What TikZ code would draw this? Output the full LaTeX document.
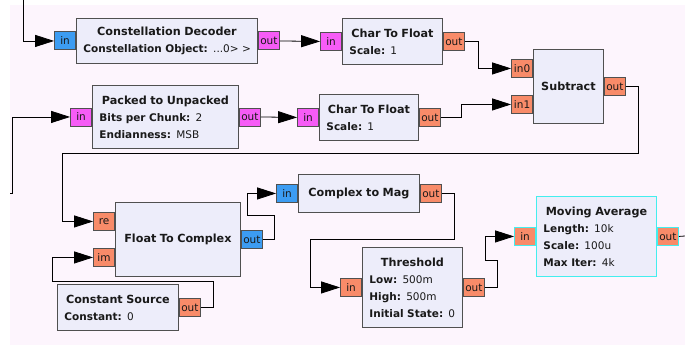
\documentclass[tikz,border=0pt]{standalone}
\usepackage{fontspec}
\setmainfont{DejaVu Sans}
\usepackage{tikz}
\usetikzlibrary{arrows.meta}
\definecolor{canvas}{HTML}{FDF5FD}
\definecolor{blockfill}{HTML}{EDEDFA}
\definecolor{blockline}{HTML}{505050}
\definecolor{bytecol}{HTML}{F65CF6}
\definecolor{cplxcol}{HTML}{3C9CF2}
\definecolor{fltcol}{HTML}{F88B69}
\definecolor{selcol}{HTML}{44EEEE}
\setlength{\parindent}{0pt}
\newcommand{\blkttl}[1]{{\centering\fontsize{11.2}{17}\selectfont\bfseries\mbox{#1}\par}}
\newcommand{\prm}[2]{\mbox{\textbf{#1:} #2}}

\begin{document}
\begin{tikzpicture}[x=1pt, y=-1pt,
        blk/.style={draw=blockline, fill=blockfill, line width=0.9pt, anchor=north west,
            inner xsep=7pt, inner ysep=0pt, align=left, text=black!90,
            font=\fontsize{10.5}{17}\selectfont},
        selblk/.style={blk, draw=selcol},
        portbox/.style={draw=blockline, line width=0.9pt, minimum width=21pt, minimum height=18pt,
            inner sep=1pt, text=black!90, font=\fontsize{10.5}{12}\selectfont},
        bytep/.style={portbox, fill=bytecol},
        cplxp/.style={portbox, fill=cplxcol},
        fltp/.style={portbox, fill=fltcol},
        wire/.style={draw=black, line width=0.8pt},
        conn/.style={wire, -{Triangle[length=19pt, width=12pt]}}
    ]
        \useasboundingbox (0,0) rectangle (685,345);
        \fill[canvas] (10,5) rectangle (685,345);

        % blocks
        \node[blk, minimum height=45pt, text width=167pt] (cdec) at (76,18)
            {\blkttl{Constellation Decoder}\prm{Constellation Object}{...0> >}};
        \node[blk, minimum height=46pt, text width=86pt] (ctfa) at (342,18)
            {\blkttl{Char To Float}\prm{Scale}{1}};
        \node[blk, minimum height=74pt, text width=56pt] (sub) at (533,49)
            {\blkttl{Subtract}};
        \node[blk, minimum height=63pt, text width=132pt] (p2u) at (92,85)
            {\blkttl{Packed to Unpacked}\prm{Bits per Chunk}{2}\\\prm{Endianness}{MSB}};
        \node[blk, minimum height=46pt, text width=85pt] (ctfb) at (319,94)
            {\blkttl{Char To Float}\prm{Scale}{1}};
        \node[blk, minimum height=74pt, text width=111pt] (f2c) at (115,202)
            {\blkttl{Float To Complex}};
        \node[blk, minimum height=38pt, text width=107pt] (c2m) at (298,174)
            {\blkttl{Complex to Mag}};
        \node[blk, minimum height=46pt, text width=107pt] (csrc) at (57,284)
            {\blkttl{Constant Source}\prm{Constant}{0}};
        \node[blk, minimum height=80pt, text width=86pt] (thr) at (362,247)
            {\blkttl{Threshold}\prm{Low}{500m}\\\prm{High}{500m}\\\prm{Initial State}{0}};
        \node[selblk, minimum height=80pt, text width=106pt] (mavg) at (536,196)
            {\blkttl{Moving Average}\prm{Length}{10k}\\\prm{Scale}{100u}\\\prm{Max Iter}{4k}};

        % ports
        \node[cplxp, anchor=east] (cdec-in) at (cdec.west) {in};
        \node[bytep, anchor=west] (cdec-out) at (cdec.east) {out};
        \node[bytep, anchor=east] (ctfa-in) at (ctfa.west) {in};
        \node[fltp, anchor=west] (ctfa-out) at (ctfa.east) {out};
        \node[fltp, anchor=east, yshift=18pt] (sub-in0) at (sub.west) {in0};
        \node[fltp, anchor=east, yshift=-18pt] (sub-in1) at (sub.west) {in1};
        \node[fltp, anchor=west] (sub-out) at (sub.east) {out};
        \node[bytep, anchor=east] (p2u-in) at (p2u.west) {in};
        \node[bytep, anchor=west] (p2u-out) at (p2u.east) {out};
        \node[bytep, anchor=east] (ctfb-in) at (ctfb.west) {in};
        \node[fltp, anchor=west] (ctfb-out) at (ctfb.east) {out};
        \node[fltp, anchor=east, yshift=18pt] (f2c-re) at (f2c.west) {re};
        \node[fltp, anchor=east, yshift=-18pt] (f2c-im) at (f2c.west) {im};
        \node[cplxp, anchor=west] (f2c-out) at (f2c.east) {out};
        \node[cplxp, anchor=east] (c2m-in) at (c2m.west) {in};
        \node[fltp, anchor=west] (c2m-out) at (c2m.east) {out};
        \node[fltp, anchor=west] (csrc-out) at (csrc.east) {out};
        \node[fltp, anchor=east] (thr-in) at (thr.west) {in};
        \node[fltp, anchor=west] (thr-out) at (thr.east) {out};
        \node[fltp, draw=selcol, anchor=east] (mavg-in) at (mavg.west) {in};
        \node[fltp, draw=selcol, anchor=west] (mavg-out) at (mavg.east) {out};

        % loose ends
        \coordinate (feedA) at (23,0);
        \coordinate (feedB) at (10,193);
        \coordinate (sinkA) at (685,236);

        % connections
        \draw[conn] (feedA) |- (cdec-in.west);
        \draw[conn] (cdec-out.east) -- (ctfa-in.west);
        \draw[conn] (ctfa-out.east) -- ++(14,0) |- (sub-in0.west);
        \draw[conn] (feedB) -- ++(2,0) |- (p2u-in.west);
        \draw[conn] (p2u-out.east) -- (ctfb-in.west);
        \draw[conn] (ctfb-out.east) -- ++(21,0) |- (sub-in1.west);
        \draw[conn] (sub-out.east) -- ++(13,0) -- ++(0,67) -| ([xshift=-31pt]f2c-re.west) -- (f2c-re.west);
        \draw[conn] (csrc-out.east) -- ++(13,0) -- ++(0,-26) -- ++(-161,0) |- (f2c-im.west);
        \draw[conn] (f2c-out.east) -- ++(12,0) -- ++(0,-24) -- ++(-27,0) |- (c2m-in.west);
        \draw[conn] (c2m-out.east) -- ++(13,0) -- ++(0,46) -- ++(-144,0) |- (thr-in.west);
        \draw[conn] (thr-out.east) -- ++(13,0) -- ++(0,-27) -- ++(-12,0) |- (mavg-in.west);
        \draw[wire] (mavg-out.east) -- (sinkA);
    \end{tikzpicture}
\end{document}
